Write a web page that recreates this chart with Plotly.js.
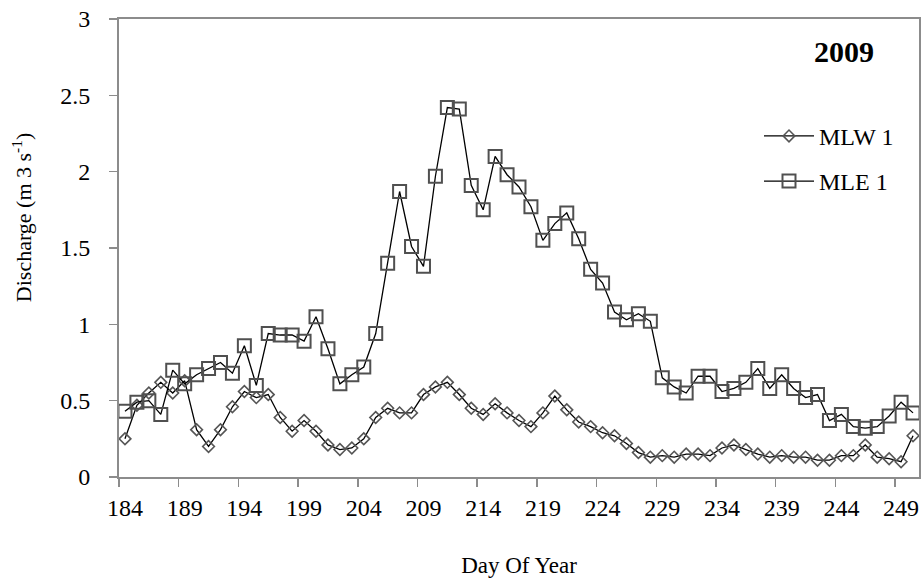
<!DOCTYPE html>
<html>
<head>
<meta charset="utf-8">
<script src="https://cdn.plot.ly/plotly-3.0.1.min.js"></script>
<style>
  html, body { margin: 0; padding: 0; background: #ffffff; }
  #chart { width: 923px; height: 578px; }
</style>
</head>
<body>
<div id="chart"></div>
<script>
// Day of year (2009)
const dayOfYear = [184, 185, 186, 187, 188, 189, 190, 191, 192, 193, 194, 195, 196, 197, 198, 199,
  200, 201, 202, 203, 204, 205, 206, 207, 208, 209, 210, 211, 212, 213, 214, 215, 216, 217, 218, 219,
  220, 221, 222, 223, 224, 225, 226, 227, 228, 229, 230, 231, 232, 233, 234, 235, 236, 237, 238, 239,
  240, 241, 242, 243, 244, 245, 246, 247, 248, 249, 250];

// Discharge, m3 s-1
const mlw1 = [0.25, 0.47, 0.55, 0.62, 0.55, 0.63, 0.31, 0.20, 0.31, 0.46, 0.56, 0.52, 0.54, 0.39, 0.30, 0.37,
  0.30, 0.21, 0.18, 0.19, 0.25, 0.39, 0.45, 0.42, 0.42, 0.54, 0.59, 0.62, 0.54, 0.45, 0.41, 0.48, 0.42, 0.37, 0.33, 0.42,
  0.53, 0.44, 0.36, 0.33, 0.29, 0.27, 0.22, 0.16, 0.13, 0.14, 0.13, 0.15, 0.15, 0.14, 0.19, 0.21, 0.18, 0.15, 0.13, 0.14,
  0.13, 0.13, 0.11, 0.11, 0.14, 0.14, 0.21, 0.13, 0.12, 0.10, 0.27];

const mle1 = [0.43, 0.49, 0.50, 0.41, 0.70, 0.61, 0.67, 0.71, 0.75, 0.68, 0.86, 0.60, 0.94, 0.93, 0.93, 0.89,
  1.05, 0.84, 0.61, 0.67, 0.72, 0.94, 1.40, 1.87, 1.51, 1.38, 1.97, 2.42, 2.41, 1.91, 1.75, 2.10, 1.98, 1.90, 1.77, 1.55,
  1.66, 1.73, 1.56, 1.36, 1.27, 1.08, 1.03, 1.07, 1.02, 0.65, 0.59, 0.55, 0.66, 0.66, 0.56, 0.58, 0.62, 0.71, 0.58, 0.67,
  0.58, 0.52, 0.54, 0.37, 0.41, 0.33, 0.32, 0.33, 0.40, 0.49, 0.42];

// Axis labels
const tickDays = [184, 189, 194, 199, 204, 209, 214, 219, 224, 229, 234, 239, 244, 249];
const tickLabels = ['184', '189', '194', '199', '204', '209', '214', '219', '224', '229', '234', '239', '244', '249'];
const yTicks = [0, 0.5, 1, 1.5, 2, 2.5, 3];
const yTickLabels = ['0', '0.5', '1', '1.5', '2', '2.5', '3'];

const serif = '"Liberation Serif", "Times New Roman", serif';
const axisGray = '#8c8c8c';

// tick marks sit on the boundaries between days; labels sit on the days
const boundaryTicks = tickDays.map(d => d - 0.5);

const traces = [
  {
    type: 'scatter', mode: 'lines+markers', name: 'MLW 1',
    x: dayOfYear, y: mlw1, legendgroup: 'mlw',
    line: { color: '#000000', width: 1.3 },
    marker: { symbol: 'diamond-open', size: 9, color: '#555555', line: { width: 1.6 } }
  },
  {
    type: 'scatter', mode: 'lines+markers', name: 'MLE 1',
    x: dayOfYear, y: mle1, legendgroup: 'mle',
    line: { color: '#000000', width: 1.3 },
    marker: { symbol: 'square-open', size: 13, color: '#505050', line: { width: 2 } }
  }
];

const layout = {
  width: 923, height: 578,
  margin: { l: 119, r: 4, t: 19, b: 101 },
  paper_bgcolor: '#ffffff', plot_bgcolor: '#ffffff',
  font: { family: serif, color: '#000000' },
  showlegend: true,
  xaxis: {
    range: [183.5, 250.5],
    tickmode: 'array', tickvals: tickDays, ticktext: tickLabels,
    ticks: 'outside', ticklen: 8, tickcolor: 'rgba(0,0,0,0)',
    minor: { tickmode: 'array', tickvals: boundaryTicks, ticks: 'outside', ticklen: 8,
             tickcolor: axisGray, tickwidth: 1.5, showgrid: false },
    showline: true, linecolor: axisGray, linewidth: 2, mirror: true,
    showgrid: false, zeroline: false,
    tickfont: { family: serif, size: 24, color: '#000000' },
    title: { text: 'Day Of Year', font: { family: serif, size: 23, color: '#000000' }, standoff: 38 }
  },
  yaxis: {
    range: [0, 3],
    tickmode: 'array', tickvals: yTicks, ticktext: yTickLabels,
    ticks: 'outside', ticklen: 8, tickcolor: axisGray, tickwidth: 1.5,
    ticklabelstandoff: 14,
    showline: true, linecolor: axisGray, linewidth: 2, mirror: true,
    showgrid: false, zeroline: false,
    tickfont: { family: serif, size: 24, color: '#000000' }
  },
  legend: {
    x: 0.80, y: 0.793, xanchor: 'left', yanchor: 'top',
    bgcolor: 'rgba(0,0,0,0)', borderwidth: 0,
    font: { family: serif, size: 24, color: '#000000' },
    traceorder: 'grouped', tracegroupgap: 11, itemwidth: 50
  },
  annotations: [
    {
      xref: 'paper', yref: 'paper', x: 0.906, y: 0.93,
      xanchor: 'center', yanchor: 'middle', showarrow: false,
      text: '<b>2009</b>', font: { family: serif, size: 30, color: '#000000' }
    },
    {
      xref: 'paper', yref: 'paper', x: -0.122, y: 0.566,
      xanchor: 'center', yanchor: 'middle', showarrow: false, textangle: -90,
      text: 'Discharge (m 3 s<sup>-1</sup>)', font: { family: serif, size: 22, color: '#000000' }
    }
  ]
};

Plotly.newPlot('chart', traces, layout, { displayModeBar: false, staticPlot: true });
</script>
</body>
</html>
